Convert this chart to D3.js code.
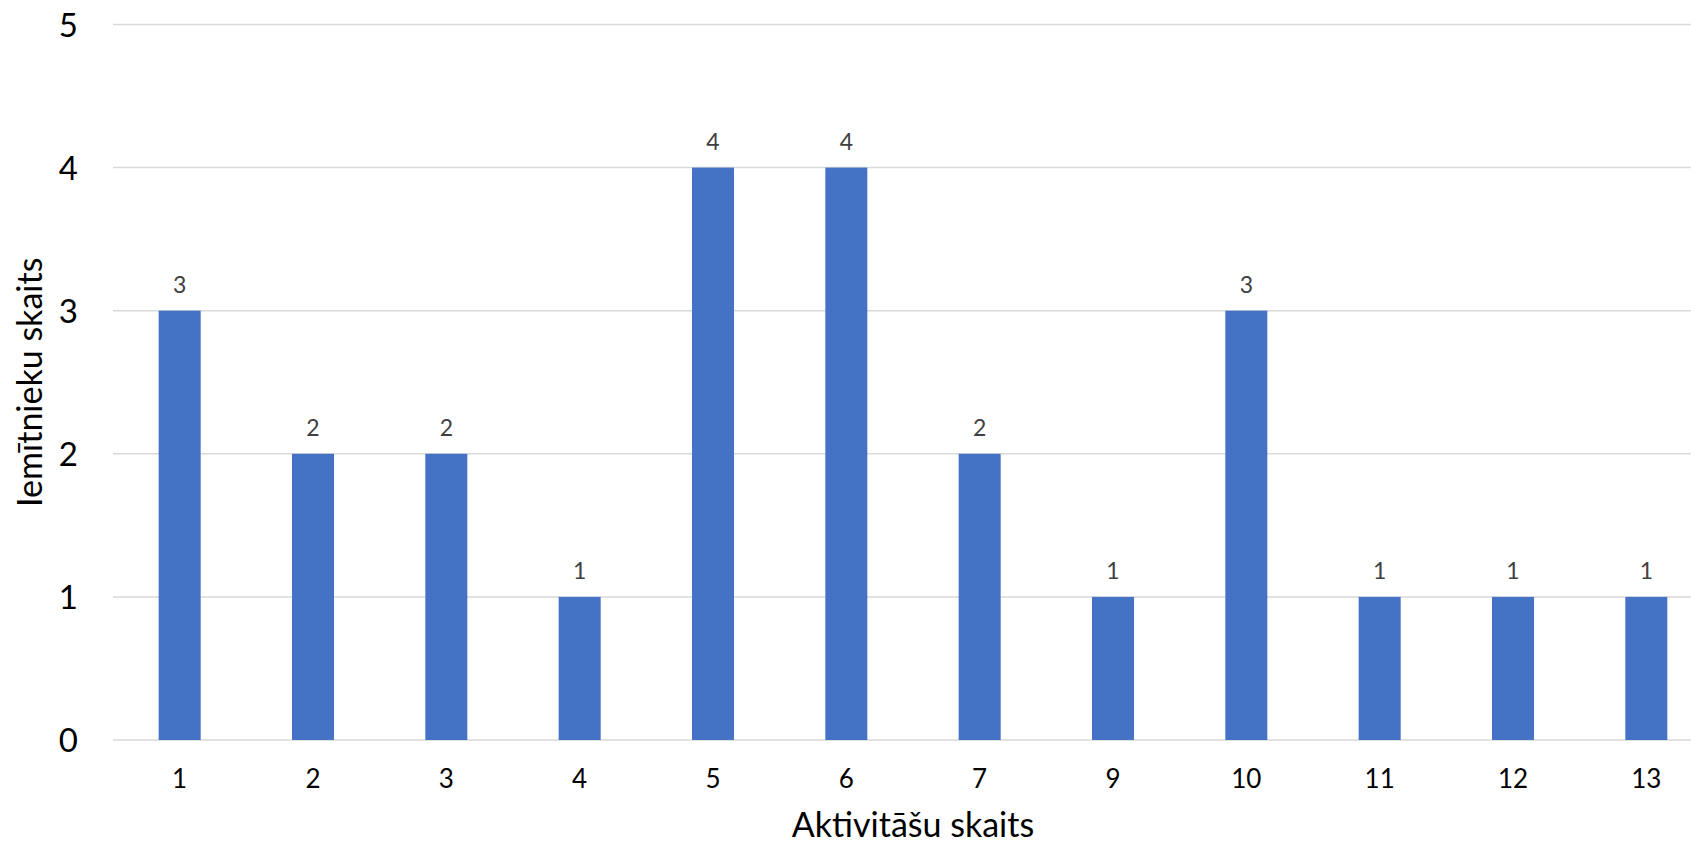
<!DOCTYPE html>
<html>
<head>
<meta charset="utf-8">
<script src="https://cdn.jsdelivr.net/npm/d3@7"></script>
<style>
  html, body { margin: 0; padding: 0; background: #fff; }
  svg { display: block; }
  text { font-family: Lato, "Open Sans", sans-serif; }
</style>
</head>
<body>
<svg id="chart" width="1691" height="843"></svg>
<script>
const categories = ["1", "2", "3", "4", "5", "6", "7", "9", "10", "11", "12", "13"];
const values = [3, 2, 2, 1, 4, 4, 2, 1, 3, 1, 1, 1];
const yTicks = [0, 1, 2, 3, 4, 5];
const xTitle = "Aktivitāšu skaits";
const yTitle = "Iemītnieku skaits";

const svg = d3.select("#chart");
const mLeft = 113, mRight = 1713, mTop = 24.5, mBottom = 740;

const x = d3.scaleBand().domain(categories).range([mLeft, mRight])
  .paddingInner(0.685).paddingOuter(0.3425);
const y = d3.scaleLinear().domain([0, 5]).range([mBottom, mTop]);

// gridlines
svg.append("g").selectAll("line").data(yTicks).join("line")
  .attr("x1", mLeft).attr("x2", mRight)
  .attr("y1", d => y(d)).attr("y2", d => y(d))
  .attr("stroke", "#d9d9d9").attr("stroke-width", 1.5);

// y axis labels
const yAxis = d3.axisLeft(y).tickValues(yTicks).tickSize(0).tickPadding(0).tickFormat(d3.format("d"));
const yg = svg.append("g").attr("transform", `translate(${mLeft - 35},0)`).call(yAxis);
yg.select(".domain").remove();
yg.selectAll("text").attr("font-size", 33).attr("fill", "#000")
  .attr("font-family", "Lato, 'Open Sans', sans-serif").attr("dy", "0.36em");

// bars
svg.append("g").selectAll("rect").data(values).join("rect")
  .attr("x", (d, i) => x(categories[i]))
  .attr("width", x.bandwidth())
  .attr("y", d => y(d))
  .attr("height", d => y(0) - y(d))
  .attr("fill", "#4472c4");

// data labels
svg.append("g").selectAll("text").data(values).join("text")
  .attr("x", (d, i) => x(categories[i]) + x.bandwidth() / 2)
  .attr("y", d => y(d) - 18)
  .attr("text-anchor", "middle")
  .attr("font-size", 23)
  .attr("fill", "#404040")
  .text(d => d);

// x axis labels
const xAxis = d3.axisBottom(x).tickSize(0).tickPadding(0);
const xg = svg.append("g").attr("transform", `translate(0,${mBottom})`).call(xAxis);
xg.select(".domain").remove();
xg.selectAll("text").attr("font-size", 26).attr("fill", "#000")
  .attr("font-family", "Lato, 'Open Sans', sans-serif")
  .attr("dy", null).attr("y", 47.5);

// axis titles
svg.append("text")
  .attr("x", (mLeft + mRight) / 2).attr("y", 837)
  .attr("text-anchor", "middle").attr("font-size", 34).attr("fill", "#000")
  .text(xTitle);

svg.append("text")
  .attr("transform", `translate(42,${(mTop + mBottom) / 2}) rotate(-90)`)
  .attr("text-anchor", "middle").attr("font-size", 34).attr("fill", "#000")
  .text(yTitle);
</script>
</body>
</html>
